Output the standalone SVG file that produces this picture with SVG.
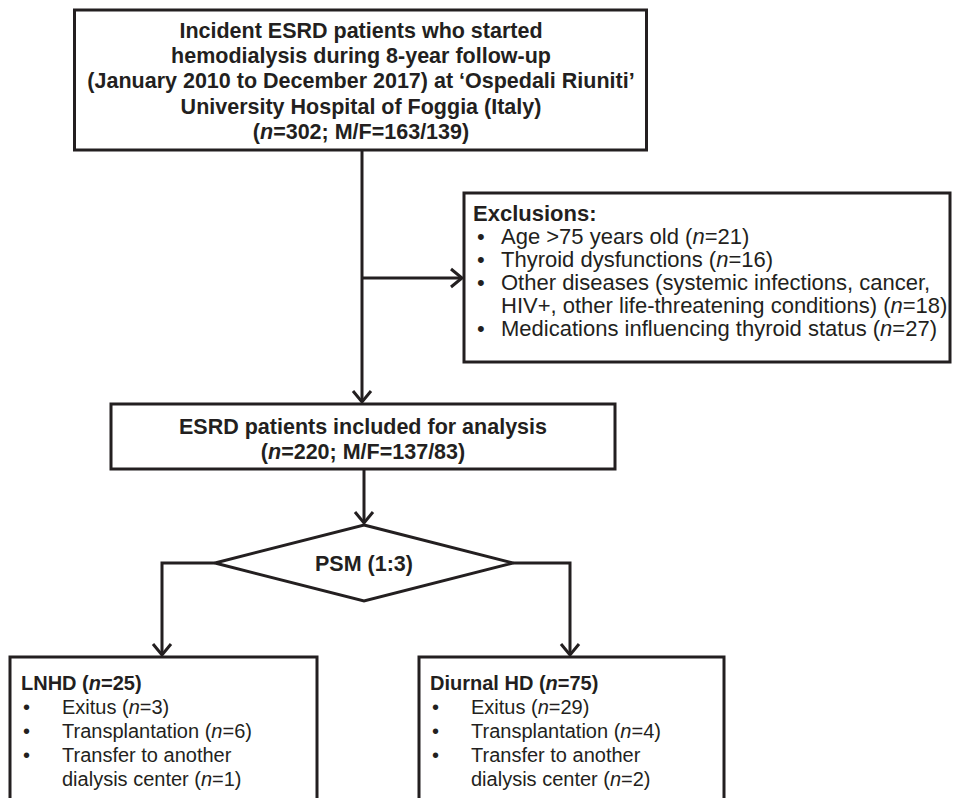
<svg xmlns="http://www.w3.org/2000/svg" width="955" height="798" viewBox="0 0 955 798">
<style>
.box{fill:#fff;stroke:#231f20;stroke-width:3}
.ln{fill:none;stroke:#231f20;stroke-width:3}
text{font-family:"Liberation Sans",Arial,sans-serif;fill:#231f20;font-size:21.5px}
.b{font-weight:bold}
.c{text-anchor:middle}
.e{font-size:22px}
.s{font-size:20px}
</style>
<defs>
<marker id="ah" markerUnits="userSpaceOnUse" markerWidth="24" markerHeight="24" refX="12" refY="12" orient="auto" viewBox="0 0 24 24">
<path d="M1,3 L12,12 L1,21" fill="none" stroke="#231f20" stroke-width="3"/>
</marker>
</defs>
<g id="connectors">
<path class="ln" d="M362,151 V402" marker-end="url(#ah)"/>
<path class="ln" d="M362,278 H462" marker-end="url(#ah)"/>
<path class="ln" d="M364,470 V523" marker-end="url(#ah)"/>
<path class="ln" d="M215,563 H162 V655" marker-end="url(#ah)"/>
<path class="ln" d="M513,563 H570 V655" marker-end="url(#ah)"/>
</g>
<g id="top">
<rect class="box" x="74.5" y="10" width="572" height="140"/>
<text class="b c" x="361" y="38">Incident ESRD patients who started</text>
<text class="b c" x="361" y="63">hemodialysis during 8-year follow-up</text>
<text class="b c" x="361" y="88">(January 2010 to December 2017) at ‘Ospedali Riuniti’</text>
<text class="b c" x="361" y="114">University Hospital of Foggia (Italy)</text>
<text class="b c" x="361" y="139">(<tspan font-style="italic">n</tspan>=302; M/F=163/139)</text>
</g>
<g id="exclusions">
<rect class="box" x="464" y="193" width="486" height="169"/>
<text class="b e" x="473" y="221">Exclusions:</text>
<text class="e" x="477" y="244">•</text><text class="e" x="501" y="244">Age &gt;75 years old (<tspan font-style="italic">n</tspan>=21)</text>
<text class="e" x="477" y="267">•</text><text class="e" x="501" y="267">Thyroid dysfunctions (<tspan font-style="italic">n</tspan>=16)</text>
<text class="e" x="477" y="290">•</text><text class="e" x="501" y="290">Other diseases (systemic infections, cancer,</text>
<text class="e" x="501" y="313">HIV+, other life-threatening conditions) (<tspan font-style="italic">n</tspan>=18)</text>
<text class="e" x="477" y="336">•</text><text class="e" x="501" y="336">Medications influencing thyroid status (<tspan font-style="italic">n</tspan>=27)</text>
</g>
<g id="included">
<rect class="box" x="111" y="404" width="504" height="65"/>
<text class="b c" x="363" y="434">ESRD patients included for analysis</text>
<text class="b c" x="363" y="459">(<tspan font-style="italic">n</tspan>=220; M/F=137/83)</text>
</g>
<g id="psm">
<path class="box" d="M364,525 L513,563 L364,601 L215,563 Z"/>
<text class="b c" x="364" y="571">PSM (1:3)</text>
</g>
<g id="lnhd">
<rect class="box" x="10" y="657" width="307" height="160"/>
<text class="b s" x="21" y="690">LNHD (<tspan font-style="italic">n</tspan>=25)</text>
<text class="s" x="23" y="714">•</text><text class="s" x="62" y="714">Exitus (<tspan font-style="italic">n</tspan>=3)</text>
<text class="s" x="23" y="738">•</text><text class="s" x="62" y="738">Transplantation (<tspan font-style="italic">n</tspan>=6)</text>
<text class="s" x="23" y="762">•</text><text class="s" x="62" y="762">Transfer to another</text>
<text class="s" x="62" y="786">dialysis center (<tspan font-style="italic">n</tspan>=1)</text>
</g>
<g id="diurnal">
<rect class="box" x="419" y="657" width="305" height="160"/>
<text class="b s" x="430" y="690">Diurnal HD (<tspan font-style="italic">n</tspan>=75)</text>
<text class="s" x="432" y="714">•</text><text class="s" x="471" y="714">Exitus (<tspan font-style="italic">n</tspan>=29)</text>
<text class="s" x="432" y="738">•</text><text class="s" x="471" y="738">Transplantation (<tspan font-style="italic">n</tspan>=4)</text>
<text class="s" x="432" y="762">•</text><text class="s" x="471" y="762">Transfer to another</text>
<text class="s" x="471" y="786">dialysis center (<tspan font-style="italic">n</tspan>=2)</text>
</g>
</svg>
